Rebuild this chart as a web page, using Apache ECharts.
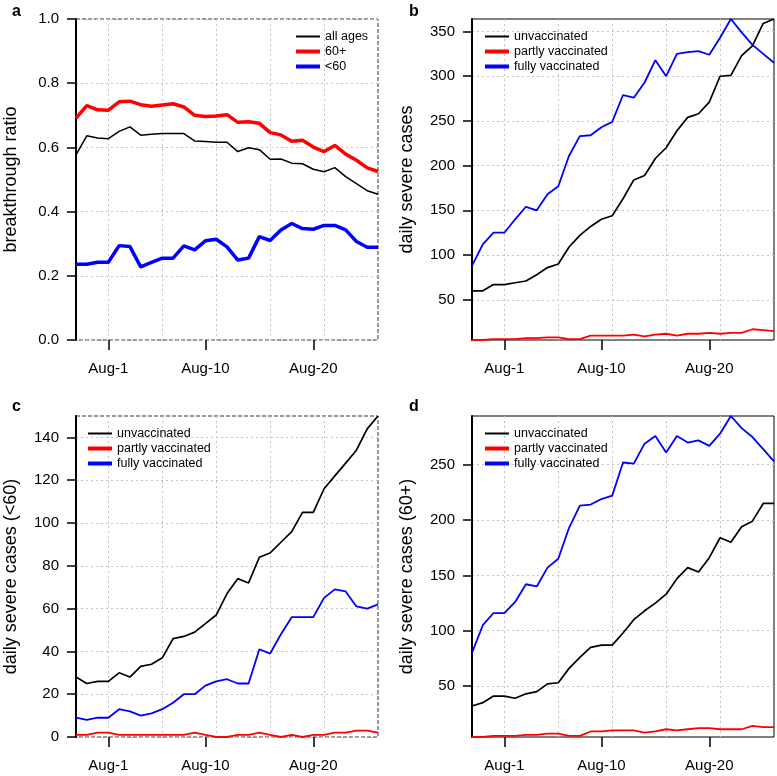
<!DOCTYPE html>
<html>
<head>
<meta charset="utf-8">
<script src="https://cdn.jsdelivr.net/npm/echarts@6/dist/echarts.min.js"></script>
<style>html,body{margin:0;padding:0;background:#fff}#c{width:777px;height:776px}</style>
</head>
<body>
<div id="c"></div>
<script>
// ---------- data ----------
const dates = ['Jul-29','Jul-30','Jul-31','Aug-1','Aug-2','Aug-3','Aug-4','Aug-5','Aug-6','Aug-7',
  'Aug-8','Aug-9','Aug-10','Aug-11','Aug-12','Aug-13','Aug-14','Aug-15','Aug-16','Aug-17',
  'Aug-18','Aug-19','Aug-20','Aug-21','Aug-22','Aug-23','Aug-24','Aug-25','Aug-26'];
const xTickDates = ['Aug-1','Aug-10','Aug-20'];
const xGridDates = ['Aug-1','Aug-6','Aug-11','Aug-16','Aug-21'];

// panel a: breakthrough ratio
const ratioAllAges = [0.577,0.636,0.629,0.627,0.650,0.664,0.638,0.641,0.643,0.643,0.643,0.620,0.618,0.616,0.616,0.587,0.599,0.593,0.563,0.564,0.551,0.549,0.532,0.524,0.537,0.509,0.487,0.465,0.454];
const ratio60plus  = [0.691,0.730,0.717,0.716,0.742,0.744,0.733,0.728,0.732,0.736,0.726,0.700,0.696,0.698,0.702,0.678,0.680,0.675,0.646,0.639,0.619,0.622,0.601,0.587,0.606,0.579,0.560,0.536,0.525];
const ratioUnder60 = [0.236,0.236,0.242,0.242,0.294,0.291,0.228,0.242,0.255,0.255,0.293,0.281,0.309,0.314,0.290,0.249,0.255,0.322,0.310,0.343,0.363,0.347,0.345,0.357,0.357,0.343,0.307,0.289,0.289];
const yTicksA = [0, 0.2, 0.4, 0.6, 0.8, 1.0];

// panel b: daily severe cases (all)
const unvaxAll  = [60,60,67,67,69,71,78,86,90,109,122,132,140,144,163,184,189,208,220,239,254,258,271,300,301,323,334,359,364];
const partlyAll = [5,5,6,6,6,7,7,8,8,6,6,10,10,10,10,11,9,11,12,10,12,12,13,12,13,13,17,16,15];
const fullyAll  = [88,112,125,125,140,154,150,168,177,211,233,234,243,249,279,276,293,318,300,325,327,328,324,343,364,349,335,325,315];
const yTicksB = [50,100,150,200,250,300,350];

// panel c: daily severe cases (<60)
const unvaxU60  = [28,25,26,26,30,28,33,34,37,46,47,49,53,57,67,74,72,84,86,91,96,105,105,116,122,128,134,144,150];
const partlyU60 = [1,1,2,2,1,1,1,1,1,1,1,2,1,0,0,1,1,2,1,0,1,0,1,1,2,2,3,3,2];
const fullyU60  = [9,8,9,9,13,12,10,11,13,16,20,20,24,26,27,25,25,41,39,48,56,56,56,65,69,68,61,60,62];
const yTicksC = [0,20,40,60,80,100,120,140];

// panel d: daily severe cases (60+)
const unvax60  = [32,35,41,41,39,43,45,52,53,66,76,85,87,87,98,110,118,125,133,147,157,153,166,184,180,194,199,215,215];
const partly60 = [4,4,5,5,5,6,6,7,7,5,5,9,9,10,10,10,8,9,11,10,11,12,12,11,11,11,14,13,13];
const fully60  = [80,105,116,116,126,142,140,157,165,193,213,214,219,222,252,251,269,276,261,276,270,272,267,278,294,283,275,264,253];
const yTicksD = [50,100,150,200,250];

// ---------- chart ----------
const FONT = 'Liberation Sans, Arial, sans-serif';
const tickIdx = xTickDates.map(d => dates.indexOf(d));
const gridIdx = xGridDates.map(d => dates.indexOf(d));
const pts = arr => arr.map((v, i) => [i, v]);

const grids = [
  {left: 76,  top: 19,  width: 302, height: 321, dashed: true},
  {left: 472, top: 19,  width: 302, height: 321, dashed: false},
  {left: 76,  top: 416, width: 302, height: 321, dashed: true},
  {left: 472, top: 416, width: 302, height: 321, dashed: false}
];

const gridCfg = grids.map(g => ({
  left: g.left, top: g.top, width: g.width, height: g.height,
  show: true, borderColor: g.dashed ? '#333' : '#000', borderWidth: 1,
  borderType: g.dashed ? [4, 2] : 'solid', backgroundColor: 'transparent'
}));

const dotted = {type: [2, 3], color: '#c4c4c4', width: 1};
const xAxes = [], yAxes = [];
grids.forEach((g, gi) => {
  xAxes.push({
    type: 'value', gridIndex: gi, min: 0, max: dates.length - 1, position: 'bottom',
    axisLine: {show: false},
    axisTick: {show: true, length: 10, customValues: tickIdx, lineStyle: {color: '#000', width: 1.5}},
    axisLabel: {customValues: tickIdx, formatter: v => dates[v], fontSize: 15, color: '#000', fontFamily: FONT, margin: 21},
    splitLine: {show: false}
  });
  xAxes.push({
    type: 'value', gridIndex: gi, min: 0, max: dates.length - 1, position: 'top',
    axisLine: {show: false},
    axisTick: {show: false, customValues: gridIdx},
    axisLabel: {show: false, customValues: gridIdx},
    splitLine: {show: true, lineStyle: dotted}
  });
});

const yNames = ['breakthrough ratio', 'daily severe cases', 'daily severe cases (<60)', 'daily severe cases (60+)'];
const yTickSets = [yTicksA, yTicksB, yTicksC, yTicksD];
grids.forEach((g, gi) => {
  const y = {
    type: 'value', gridIndex: gi,
    axisLine: {show: true, lineStyle: {color: '#000', width: 2}},
    axisTick: {show: true, length: 9, customValues: yTickSets[gi], lineStyle: {color: '#000', width: 1.5}},
    axisLabel: {customValues: yTickSets[gi], fontSize: 15, color: '#000', fontFamily: FONT, margin: 17,
      formatter: gi === 0 ? (v => v.toFixed(1)) : (v => String(v))},
    splitLine: {show: true, lineStyle: dotted},
    name: yNames[gi], nameLocation: 'middle', nameGap: 56, nameRotate: 90,
    nameTextStyle: {fontSize: 18, color: '#000', fontFamily: FONT}
  };
  if (gi === 0) { y.min = 0; y.max = 1; }
  else if (gi === 2) { y.min = 0; y.max = 'dataMax'; }
  else { y.min = 'dataMin'; y.max = 'dataMax'; }
  yAxes.push(y);
});

function line(name, gi, arr, color, width) {
  return {
    type: 'line', name: name, xAxisIndex: gi * 2, yAxisIndex: gi, data: pts(arr),
    showSymbol: false, symbol: 'none', color: color, lineStyle: {color: color, width: width},
    emphasis: {disabled: true}, silent: true, animation: false, z: 3
  };
}

const series = [
  line('all ages', 0, ratioAllAges, '#000', 1.5),
  line('60+', 0, ratio60plus, '#ff0000', 3.5),
  line('<60', 0, ratioUnder60, '#0000ff', 3.5),
  line('unvaccinated', 1, unvaxAll, '#000', 1.7),
  line('partly vaccinated', 1, partlyAll, '#ff0000', 1.8),
  line('fully vaccinated', 1, fullyAll, '#0000ff', 1.8),
  line('unvaccinated', 2, unvaxU60, '#000', 1.7),
  line('partly vaccinated', 2, partlyU60, '#ff0000', 1.8),
  line('fully vaccinated', 2, fullyU60, '#0000ff', 1.8),
  line('unvaccinated', 3, unvax60, '#000', 1.7),
  line('partly vaccinated', 3, partly60, '#ff0000', 1.8),
  line('fully vaccinated', 3, fully60, '#0000ff', 1.8)
];

const legendNamesA = ['all ages', '60+', '<60'];
const legendNamesB = ['unvaccinated', 'partly vaccinated', 'fully vaccinated'];
const legendColors = ['#000', '#ff0000', '#0000ff'];
const legendHeights = [2, 4, 4];
const legendPos = [
  {left: 296, rows: [34, 49, 64], names: legendNamesA},
  {left: 485, rows: [34, 49, 64], names: legendNamesB},
  {left: 88,  rows: [431, 446, 461], names: legendNamesB},
  {left: 485, rows: [431, 446, 461], names: legendNamesB}
];
const legends = [];
legendPos.forEach(p => {
  p.names.forEach((n, k) => {
    legends.push({
      data: [{name: n, itemStyle: {color: legendColors[k]}}],
      left: p.left, top: p.rows[k] - 4, padding: 0, icon: 'rect',
      itemWidth: 24, itemHeight: legendHeights[k], selectedMode: false,
      textStyle: {fontSize: 12.5, color: '#000', fontFamily: FONT}
    });
  });
});

const letters = [
  {text: 'a', left: 12, top: 4}, {text: 'b', left: 409, top: 4},
  {text: 'c', left: 12, top: 399}, {text: 'd', left: 409, top: 399}
].map(t => ({text: t.text, left: t.left, top: t.top, padding: 0,
  textStyle: {fontSize: 16, fontWeight: 'bold', color: '#000', fontFamily: FONT}}));

const chart = echarts.init(document.getElementById('c'), null, {renderer: 'canvas'});
chart.setOption({
  animation: false,
  backgroundColor: '#fff',
  title: letters,
  grid: gridCfg,
  xAxis: xAxes,
  yAxis: yAxes,
  legend: legends,
  series: series
});
</script>
</body>
</html>
